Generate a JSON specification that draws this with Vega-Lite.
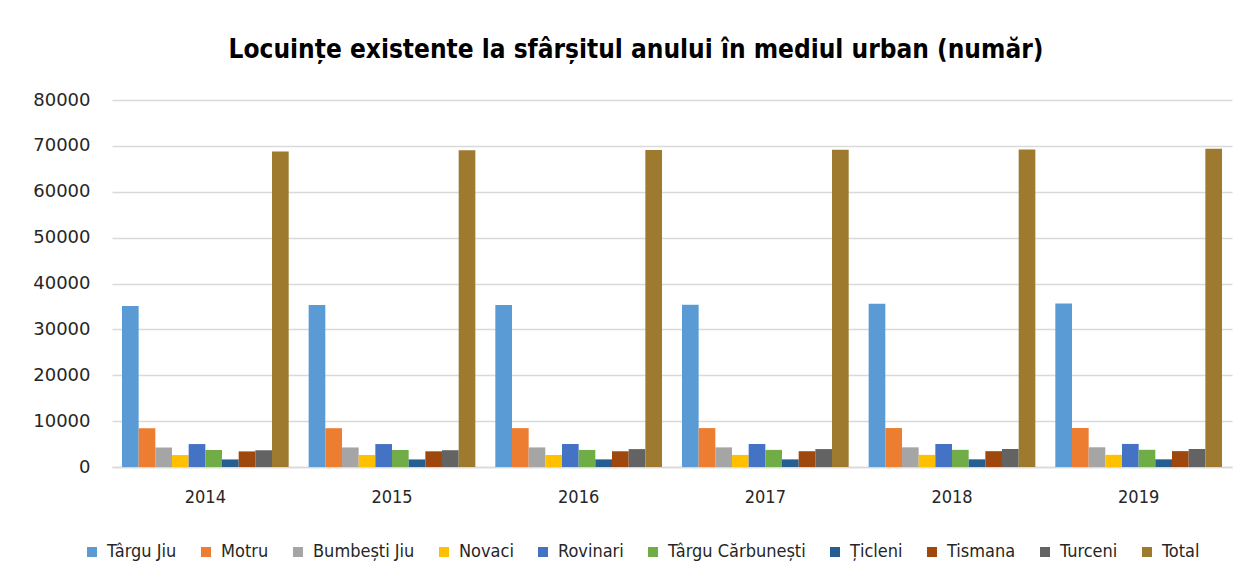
{
  "$schema": "https://vega.github.io/schema/vega-lite/v6.json",
  "width": 1120,
  "height": 367,
  "autosize": {"type": "none"},
  "padding": {"left": 112, "top": 100, "right": 17, "bottom": 120},
  "background": "white",
  "title": {
    "text": "Locuințe existente la sfârșitul anului în mediul urban (număr)",
    "font": "DejaVu Sans Condensed, Lato",
    "fontSize": 26,
    "fontWeight": "bold",
    "color": "#000000",
    "anchor": "middle",
    "offset": 28,
    "dx": -36
  },
  "data": {
    "values": [
      {"an": "2014", "oras": "Târgu Jiu", "valoare": 35100},
      {"an": "2014", "oras": "Motru", "valoare": 8450},
      {"an": "2014", "oras": "Bumbești Jiu", "valoare": 4250},
      {"an": "2014", "oras": "Novaci", "valoare": 2600},
      {"an": "2014", "oras": "Rovinari", "valoare": 5000},
      {"an": "2014", "oras": "Târgu Cărbunești", "valoare": 3700},
      {"an": "2014", "oras": "Țicleni", "valoare": 1650},
      {"an": "2014", "oras": "Tismana", "valoare": 3400},
      {"an": "2014", "oras": "Turceni", "valoare": 3650},
      {"an": "2014", "oras": "Total", "valoare": 68800},
      {"an": "2015", "oras": "Târgu Jiu", "valoare": 35300},
      {"an": "2015", "oras": "Motru", "valoare": 8460},
      {"an": "2015", "oras": "Bumbești Jiu", "valoare": 4260},
      {"an": "2015", "oras": "Novaci", "valoare": 2610},
      {"an": "2015", "oras": "Rovinari", "valoare": 5000},
      {"an": "2015", "oras": "Târgu Cărbunești", "valoare": 3710},
      {"an": "2015", "oras": "Țicleni", "valoare": 1650},
      {"an": "2015", "oras": "Tismana", "valoare": 3420},
      {"an": "2015", "oras": "Turceni", "valoare": 3660},
      {"an": "2015", "oras": "Total", "valoare": 69050},
      {"an": "2016", "oras": "Târgu Jiu", "valoare": 35300},
      {"an": "2016", "oras": "Motru", "valoare": 8470},
      {"an": "2016", "oras": "Bumbești Jiu", "valoare": 4270},
      {"an": "2016", "oras": "Novaci", "valoare": 2620},
      {"an": "2016", "oras": "Rovinari", "valoare": 5010},
      {"an": "2016", "oras": "Târgu Cărbunești", "valoare": 3720},
      {"an": "2016", "oras": "Țicleni", "valoare": 1660},
      {"an": "2016", "oras": "Tismana", "valoare": 3430},
      {"an": "2016", "oras": "Turceni", "valoare": 3900},
      {"an": "2016", "oras": "Total", "valoare": 69100},
      {"an": "2017", "oras": "Târgu Jiu", "valoare": 35350},
      {"an": "2017", "oras": "Motru", "valoare": 8480},
      {"an": "2017", "oras": "Bumbești Jiu", "valoare": 4280},
      {"an": "2017", "oras": "Novaci", "valoare": 2630},
      {"an": "2017", "oras": "Rovinari", "valoare": 5010},
      {"an": "2017", "oras": "Târgu Cărbunești", "valoare": 3730},
      {"an": "2017", "oras": "Țicleni", "valoare": 1660},
      {"an": "2017", "oras": "Tismana", "valoare": 3440},
      {"an": "2017", "oras": "Turceni", "valoare": 3910},
      {"an": "2017", "oras": "Total", "valoare": 69150},
      {"an": "2018", "oras": "Târgu Jiu", "valoare": 35600},
      {"an": "2018", "oras": "Motru", "valoare": 8490},
      {"an": "2018", "oras": "Bumbești Jiu", "valoare": 4290},
      {"an": "2018", "oras": "Novaci", "valoare": 2640},
      {"an": "2018", "oras": "Rovinari", "valoare": 5020},
      {"an": "2018", "oras": "Târgu Cărbunești", "valoare": 3740},
      {"an": "2018", "oras": "Țicleni", "valoare": 1670},
      {"an": "2018", "oras": "Tismana", "valoare": 3450},
      {"an": "2018", "oras": "Turceni", "valoare": 3920},
      {"an": "2018", "oras": "Total", "valoare": 69200},
      {"an": "2019", "oras": "Târgu Jiu", "valoare": 35650},
      {"an": "2019", "oras": "Motru", "valoare": 8500},
      {"an": "2019", "oras": "Bumbești Jiu", "valoare": 4300},
      {"an": "2019", "oras": "Novaci", "valoare": 2650},
      {"an": "2019", "oras": "Rovinari", "valoare": 5030},
      {"an": "2019", "oras": "Târgu Cărbunești", "valoare": 3750},
      {"an": "2019", "oras": "Țicleni", "valoare": 1670},
      {"an": "2019", "oras": "Tismana", "valoare": 3460},
      {"an": "2019", "oras": "Turceni", "valoare": 3930},
      {"an": "2019", "oras": "Total", "valoare": 69400}
    ]
  },
  "mark": {"type": "bar"},
  "encoding": {
    "x": {
      "field": "an",
      "type": "nominal",
      "scale": {"paddingInner": 0.107, "paddingOuter": 0.0535},
      "axis": {
        "title": null,
        "labelAngle": 0,
        "labelFont": "DejaVu Sans Condensed, Lato",
        "labelFontSize": 18,
        "labelColor": "#262626",
        "labelPadding": 21,
        "ticks": false,
        "domainColor": "#D9D9D9",
        "domainWidth": 1.5
      }
    },
    "xOffset": {
      "field": "oras",
      "type": "nominal",
      "sort": ["Târgu Jiu", "Motru", "Bumbești Jiu", "Novaci", "Rovinari", "Târgu Cărbunești", "Țicleni", "Tismana", "Turceni", "Total"],
      "scale": {"paddingInner": 0, "paddingOuter": 0}
    },
    "y": {
      "field": "valoare",
      "type": "quantitative",
      "scale": {"domain": [0, 80000]},
      "axis": {
        "title": null,
        "values": [0, 10000, 20000, 30000, 40000, 50000, 60000, 70000, 80000],
        "format": "d",
        "labelFont": "DejaVu Sans",
        "labelFontSize": 18,
        "labelColor": "#262626",
        "labelPadding": 22,
        "ticks": false,
        "domain": false,
        "gridColor": "#D9D9D9",
        "gridWidth": 1.5
      }
    },
    "color": {
      "field": "oras",
      "type": "nominal",
      "scale": {
        "domain": ["Târgu Jiu", "Motru", "Bumbești Jiu", "Novaci", "Rovinari", "Târgu Cărbunești", "Țicleni", "Tismana", "Turceni", "Total"],
        "range": ["#5B9BD5", "#ED7D31", "#A5A5A5", "#FFC000", "#4472C4", "#70AD47", "#255E91", "#9E480E", "#636363", "#9E7A2E"]
      },
      "legend": {
        "title": null,
        "orient": "none",
        "direction": "horizontal",
        "legendX": -29,
        "legendY": 443,
        "symbolType": "square",
        "symbolSize": 100,
        "symbolStrokeWidth": 0,
        "labelFont": "DejaVu Sans Condensed, Lato",
        "labelFontSize": 18,
        "labelColor": "#262626",
        "labelOffset": 6,
        "columnPadding": 20
      }
    }
  },
  "config": {
    "view": {"stroke": null}
  }
}
